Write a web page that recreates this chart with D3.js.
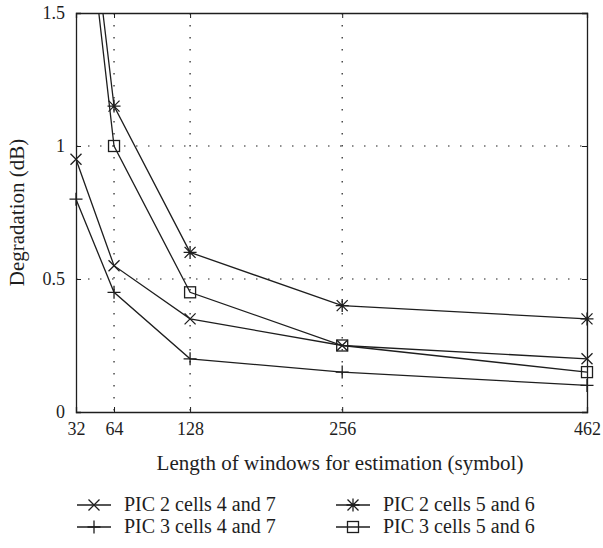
<!doctype html>
<html>
<head>
  <script src="https://cdnjs.cloudflare.com/ajax/libs/d3/7.8.5/d3.min.js"></script>
  <style>
    body { margin: 0; background: #fff; }
    text { font-family: "Liberation Serif", "DejaVu Serif", serif; fill: #1e1e1e; }
  </style>
</head>
<body>
  <svg id="chart" width="603" height="548"></svg>
  <script>
    // window lengths (symbols)
    var windows = [32, 64, 128, 256, 462];
    var xTicks = [32, 64, 128, 256, 462];
    var yTicks = [0, 0.5, 1, 1.5];
    var xGrid = [64, 128, 256];
    var yGrid = [0.5, 1];

    var pic2_47 = [0.95, 0.55, 0.35, 0.25, 0.2];
    var pic2_56 = [2.35, 1.15, 0.6, 0.4, 0.35];
    var pic3_47 = [0.8, 0.45, 0.2, 0.15, 0.1];
    var pic3_56 = [2.25, 1.0, 0.45, 0.25, 0.15];

    var series = [
      { name: "PIC 2 cells 4 and 7", values: pic2_47, marker: "x" },
      { name: "PIC 2 cells 5 and 6", values: pic2_56, marker: "star" },
      { name: "PIC 3 cells 4 and 7", values: pic3_47, marker: "plus" },
      { name: "PIC 3 cells 5 and 6", values: pic3_56, marker: "square" }
    ];

    var ink = "#1e1e1e";
    var m = { left: 76, right: 587, top: 13, bottom: 412 };

    var svg = d3.select("#chart");
    var x = d3.scaleLinear().domain([32, 462]).range([m.left, m.right]);
    var y = d3.scaleLinear().domain([0, 1.5]).range([m.bottom, m.top]);

    svg.append("clipPath").attr("id", "plotclip")
      .append("rect").attr("x", m.left).attr("y", m.top)
      .attr("width", m.right - m.left).attr("height", m.bottom - m.top);

    // dotted grid
    svg.selectAll(".gx").data(xGrid).enter().append("line")
      .attr("x1", d => x(d)).attr("x2", d => x(d))
      .attr("y1", m.top).attr("y2", m.bottom)
      .attr("stroke", ink).attr("stroke-width", 1.2)
      .attr("stroke-dasharray", "1.5,10.5");
    svg.selectAll(".gy").data(yGrid).enter().append("line")
      .attr("x1", m.left).attr("x2", m.right)
      .attr("y1", d => y(d)).attr("y2", d => y(d))
      .attr("stroke", ink).attr("stroke-width", 1.2)
      .attr("stroke-dasharray", "1.5,10.5");

    // axes (ticks pointing inward, mirrored)
    var xb = svg.append("g").attr("transform", "translate(0," + m.bottom + ")")
      .call(d3.axisBottom(x).tickValues(xTicks).tickSize(-5).tickPadding(10).tickFormat(d3.format("d")));
    var xt = svg.append("g").attr("transform", "translate(0," + m.top + ")")
      .call(d3.axisTop(x).tickValues(xTicks).tickSize(-5).tickFormat(""));
    var yl = svg.append("g").attr("transform", "translate(" + m.left + ",0)")
      .call(d3.axisLeft(y).tickValues(yTicks).tickSize(-5).tickPadding(11).tickFormat(d => d));
    var yr = svg.append("g").attr("transform", "translate(" + m.right + ",0)")
      .call(d3.axisRight(y).tickValues(yTicks).tickSize(-5).tickFormat(""));
    [xb, xt, yl, yr].forEach(function (g) {
      g.selectAll("path").attr("stroke", ink).attr("stroke-width", 1.3);
      g.selectAll("line").attr("stroke", ink).attr("stroke-width", 1);
      g.selectAll("text").style("font-size", "18px").attr("fill", ink)
        .style("font-family", "'Liberation Serif', serif");
    });

    // axis titles
    svg.append("text").attr("x", 340).attr("y", 470)
      .attr("text-anchor", "middle").style("font-size", "21px")
      .text("Length of windows for estimation (symbol)");
    svg.append("text").attr("transform", "translate(24," + ((m.top + m.bottom) / 2) + ") rotate(-90)")
      .attr("text-anchor", "middle").style("font-size", "21px")
      .text("Degradation (dB)");

    function drawMarker(g, type, cx, cy) {
      var s = 5.5;
      if (type === "x") {
        g.append("path").attr("d", "M" + (cx - s) + "," + (cy - s) + "L" + (cx + s) + "," + (cy + s) +
          "M" + (cx - s) + "," + (cy + s) + "L" + (cx + s) + "," + (cy - s));
      } else if (type === "plus") {
        g.append("path").attr("d", "M" + (cx - s - 1) + "," + cy + "L" + (cx + s + 1) + "," + cy +
          "M" + cx + "," + (cy - s - 1) + "L" + cx + "," + (cy + s + 1));
      } else if (type === "star") {
        g.append("path").attr("d", "M" + (cx - s) + "," + (cy - s) + "L" + (cx + s) + "," + (cy + s) +
          "M" + (cx - s) + "," + (cy + s) + "L" + (cx + s) + "," + (cy - s) +
          "M" + (cx - s - 1) + "," + cy + "L" + (cx + s + 1) + "," + cy +
          "M" + cx + "," + (cy - s - 1) + "L" + cx + "," + (cy + s + 1));
      } else if (type === "square") {
        g.append("rect").attr("x", cx - s).attr("y", cy - s).attr("width", 2 * s).attr("height", 2 * s)
          .attr("fill", "none");
      }
    }

    var line = d3.line().x(d => x(d[0])).y(d => y(d[1]));
    var plot = svg.append("g").attr("clip-path", "url(#plotclip)");
    series.forEach(function (s) {
      var pts = windows.map((w, i) => [w, s.values[i]]);
      plot.append("path").datum(pts).attr("d", line)
        .attr("fill", "none").attr("stroke", ink).attr("stroke-width", 1.3);
      var mg = svg.append("g").attr("stroke", ink).attr("stroke-width", 1.3).attr("fill", "none");
      pts.forEach(function (p) {
        if (p[1] <= 1.5) drawMarker(mg, s.marker, x(p[0]), y(p[1]));
      });
    });

    // legend, two columns
    var legendPos = [
      { lx: 77, ly: 505 }, { lx: 336, ly: 505 },
      { lx: 77, ly: 527 }, { lx: 336, ly: 527 }
    ];
    series.forEach(function (s, i) {
      var p = legendPos[i];
      var lg = svg.append("g").attr("stroke", ink).attr("stroke-width", 1.3).attr("fill", "none");
      lg.append("line").attr("x1", p.lx).attr("x2", p.lx + 34).attr("y1", p.ly).attr("y2", p.ly);
      drawMarker(lg, s.marker, p.lx + 17, p.ly);
      svg.append("text").attr("x", p.lx + 47).attr("y", p.ly + 6)
        .style("font-size", "20px").text(s.name);
    });
  </script>
</body>
</html>
